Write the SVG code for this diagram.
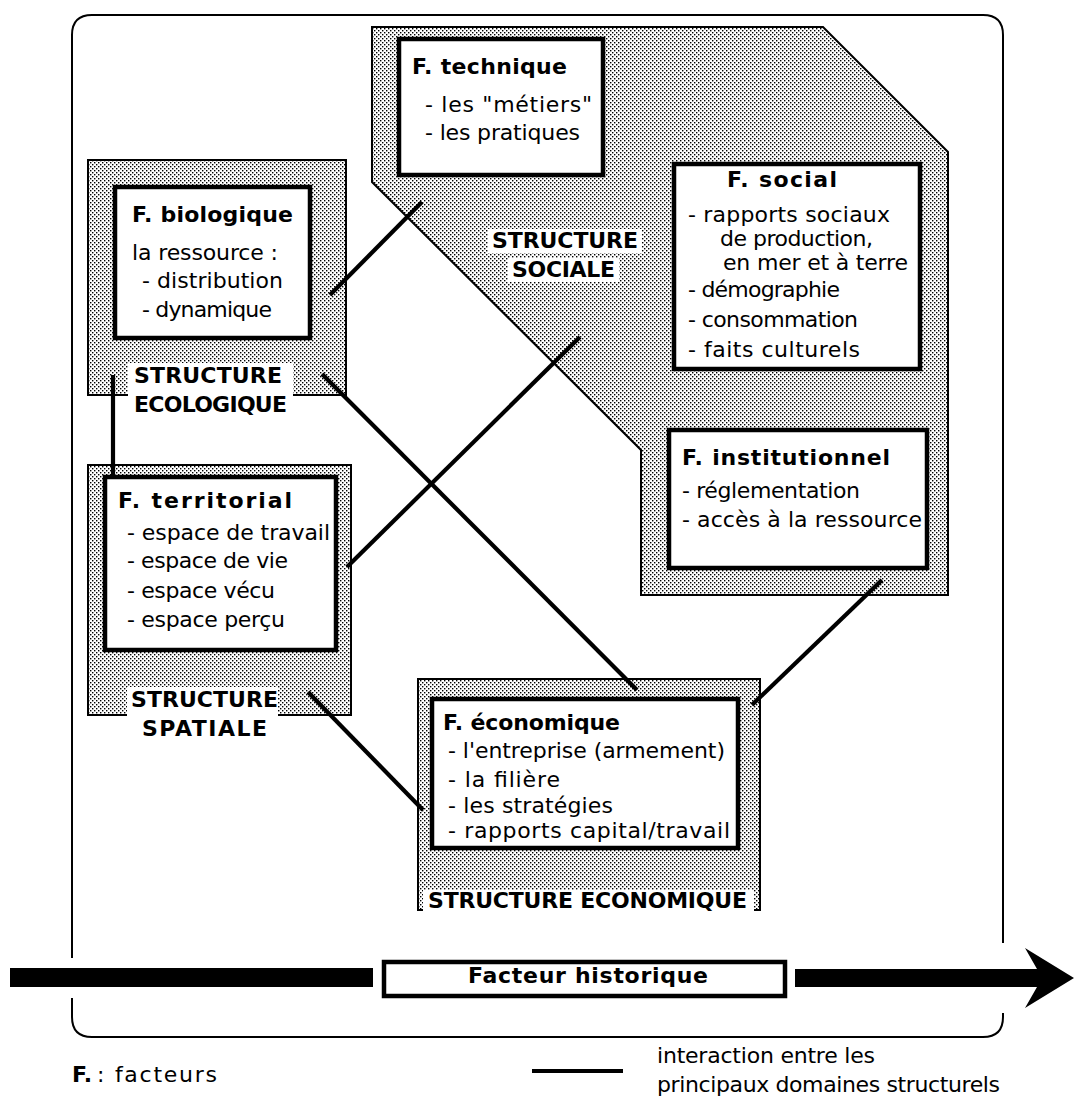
<svg xmlns="http://www.w3.org/2000/svg" width="1074" height="1099" viewBox="0 0 1074 1099">
<defs>
<pattern id="dots" width="4" height="4" patternUnits="userSpaceOnUse">
<rect width="4" height="4" fill="#fff"/>
<rect x="0" y="0" width="1.4" height="1.4" fill="#000"/>
<rect x="2" y="2" width="1.4" height="1.4" fill="#000"/>
</pattern>
</defs>
<style>
.shade{fill:url(#dots);stroke:#000;stroke-width:2}
.box{fill:#fff;stroke:#000;stroke-width:4.5}
.knock{fill:#fff;stroke:none}
.conn{stroke:#000;stroke-width:4.2;fill:none}
.frame{fill:none;stroke:#000;stroke-width:2}
text{font-family:"DejaVu Sans","Liberation Sans",sans-serif;font-size:22px;fill:#000}
.b{font-weight:bold}
</style>
<rect width="1074" height="1099" fill="#fff"/>

<g id="frame">
<path class="frame" d="M72,958 L72,35 Q72,15 92,15 L983,15 Q1003,15 1003,35 L1003,943"/>
<path class="frame" d="M72,998 L72,1017 Q72,1037 92,1037 L983,1037 Q1003,1037 1003,1017 L1003,1013"/>
</g>

<g id="structure-sociale">
<polygon class="shade" points="372,27 823,27 948,152 948,595 641,595 641,450 372,182"/>
<rect class="knock" x="488" y="229" width="154" height="24"/>
<rect class="knock" x="508" y="258" width="111" height="24"/>
<text class="b" x="492" y="248" textLength="146">STRUCTURE</text>
<text class="b" x="512" y="277" textLength="103">SOCIALE</text>
</g>

<g id="f-technique">
<rect class="box" x="399" y="39" width="204" height="136"/>
<text class="b" x="412" y="74" textLength="155">F. technique</text>
<text x="425" y="112" textLength="167">- les "métiers"</text>
<text x="425" y="140" textLength="155">- les pratiques</text>
</g>

<g id="f-social">
<rect class="box" x="674" y="164" width="246" height="205"/>
<text class="b" x="727" y="187" textLength="110">F. social</text>
<text x="688" y="222" textLength="202">- rapports sociaux</text>
<text x="720" y="246" textLength="153">de production,</text>
<text x="723" y="270" textLength="185">en mer et à terre</text>
<text x="688" y="297" textLength="152">- démographie</text>
<text x="688" y="327" textLength="170">- consommation</text>
<text x="688" y="357" textLength="172">- faits culturels</text>
</g>

<g id="f-institutionnel">
<rect class="box" x="669" y="430" width="258" height="138"/>
<text class="b" x="682" y="465" textLength="208">F. institutionnel</text>
<text x="682" y="498" textLength="178">- réglementation</text>
<text x="682" y="527" textLength="240">- accès à la ressource</text>
</g>

<g id="structure-ecologique">
<rect class="shade" x="88" y="160" width="258" height="235"/>
<rect class="knock" x="128" y="363" width="165" height="55"/>
<text class="b" x="134" y="383" textLength="148">STRUCTURE</text>
<text class="b" x="134" y="412" textLength="153">ECOLOGIQUE</text>
</g>

<g id="f-biologique">
<rect class="box" x="115" y="187" width="195" height="151"/>
<text class="b" x="132" y="222" textLength="161">F. biologique</text>
<text x="132" y="260" textLength="146">la ressource :</text>
<text x="142" y="288" textLength="141">- distribution</text>
<text x="142" y="317" textLength="130">- dynamique</text>
</g>

<g id="structure-spatiale">
<rect class="shade" x="88" y="465" width="263" height="250"/>
<rect class="knock" x="127" y="687" width="151" height="56"/>
<text class="b" x="131" y="707" textLength="147">STRUCTURE</text>
<text class="b" x="142" y="736" textLength="125">SPATIALE</text>
</g>

<g id="f-territorial">
<rect class="box" x="105" y="477" width="231" height="173"/>
<text class="b" x="118" y="508" textLength="174">F. territorial</text>
<text x="127" y="540" textLength="203">- espace de travail</text>
<text x="127" y="568" textLength="161">- espace de vie</text>
<text x="127" y="598" textLength="148">- espace vécu</text>
<text x="127" y="627" textLength="158">- espace perçu</text>
</g>

<g id="structure-economique">
<rect class="shade" x="418" y="679" width="342" height="231"/>
<rect class="knock" x="423" y="890" width="331" height="24"/>
<text class="b" x="428" y="908" textLength="319">STRUCTURE ECONOMIQUE</text>
</g>

<g id="f-economique">
<rect class="box" x="432" y="699" width="306" height="149"/>
<text class="b" x="443" y="730" textLength="177">F. économique</text>
<text x="448" y="758" textLength="277">- l'entreprise (armement)</text>
<text x="448" y="787" textLength="112">- la filière</text>
<text x="448" y="813" textLength="165">- les stratégies</text>
<text x="448" y="838" textLength="282">- rapports capital/travail</text>
</g>

<g id="connectors">
<line class="conn" x1="330" y1="295" x2="422" y2="202"/>
<line class="conn" x1="347" y1="567" x2="580" y2="337"/>
<line class="conn" x1="322" y1="374" x2="637" y2="690"/>
<line class="conn" x1="308" y1="692" x2="423" y2="810"/>
<line class="conn" x1="882" y1="580" x2="752" y2="705"/>
<line class="conn" x1="113" y1="375" x2="113" y2="475"/>
</g>

<g id="facteur-historique">
<rect x="10" y="968" width="363" height="19" fill="#000"/>
<rect class="box" x="384" y="962" width="401" height="34"/>
<text class="b" x="468" y="983" textLength="240">Facteur historique</text>
<polygon points="795,969 1037,969 1025,948 1074,978 1025,1008 1037,987 795,987" fill="#000"/>
</g>

<g id="legend">
<text class="b" x="72" y="1082">F.</text>
<text x="97" y="1082" textLength="120">: facteurs</text>
<line x1="532" y1="1071" x2="623" y2="1071" stroke="#000" stroke-width="4"/>
<text x="657" y="1063" textLength="218">interaction entre les</text>
<text x="657" y="1092" textLength="343">principaux domaines structurels</text>
</g>
</svg>
